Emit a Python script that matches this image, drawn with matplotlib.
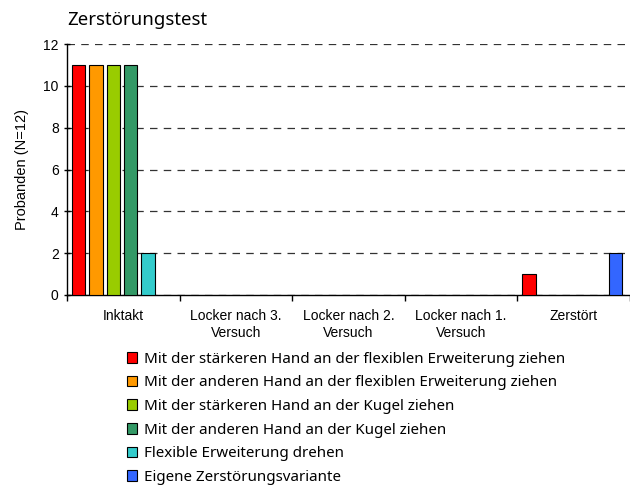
import numpy as np
import matplotlib
matplotlib.use("Agg")
import matplotlib.pyplot as plt
from matplotlib.patches import Patch

categories = ["Inktakt", "Locker nach 3.\nVersuch", "Locker nach 2.\nVersuch",
              "Locker nach 1.\nVersuch", "Zerstört"]
series = [
    "Mit der stärkeren Hand an der flexiblen Erweiterung ziehen",
    "Mit der anderen Hand an der flexiblen Erweiterung ziehen",
    "Mit der stärkeren Hand an der Kugel ziehen",
    "Mit der anderen Hand an der Kugel ziehen",
    "Flexible Erweiterung drehen",
    "Eigene Zerstörungsvariante",
]
values = [
    [11, 0, 0, 0, 1],
    [11, 0, 0, 0, 0],
    [11, 0, 0, 0, 0],
    [11, 0, 0, 0, 0],
    [2, 0, 0, 0, 0],
    [0, 0, 0, 0, 2],
]
colors = ["#ff0000", "#ff9900", "#99cc00", "#339966", "#33cccc", "#3366ff"]

fig = plt.figure(figsize=(6.3, 5.04), dpi=100)
ax = fig.add_axes([67/630, 1 - 295/504, (630 - 67)/630, (295 - 44)/504])

x = np.arange(len(categories))
step = 0.154
width = 0.118
handles = []
for i, (name, vals) in enumerate(zip(series, values)):
    vals = np.array(vals)
    bars = ax.bar(x + 0.045 + i * step, vals, width=width, align="edge", color=colors[i],
                  edgecolor="black", linewidth=0.8, zorder=3)
    # zero-height bars are not drawn in the original
    for b, v in zip(bars, vals):
        if v == 0:
            b.set_visible(False)
    handles.append(Patch(facecolor=colors[i], edgecolor="black", linewidth=0.8, label=name))

ax.set_xlim(0, len(categories))
ax.set_ylim(0, 12)
ax.set_yticks(range(0, 13, 2))
ax.set_xticks(np.arange(len(categories) + 1))
ax.set_xticklabels([])
ax.set_xticks(x + 0.5, minor=True)
ax.set_xticklabels(categories, minor=True, fontsize=10, family="Liberation Sans",
                   linespacing=1.3)
ax.tick_params(axis="x", which="minor", length=0, pad=10)
ax.tick_params(axis="x", which="major", length=4, direction="out", width=1)
ax.tick_params(axis="y", length=4, direction="inout", width=1, labelsize=10, pad=4)
for lbl in ax.get_yticklabels():
    lbl.set_family("Liberation Sans")

ax.grid(axis="y", color="#333333", linestyle=(0, (6, 5)), linewidth=0.9, zorder=0)
for s in ["top", "right"]:
    ax.spines[s].set_visible(False)
ax.spines["left"].set_linewidth(1)
ax.spines["bottom"].set_linewidth(1)

ax.set_ylabel("Probanden (N=12)", fontsize=10.5, family="Liberation Sans", labelpad=10)
fig.text(67/630, 1 - 20/504, "Zerstörungstest", fontsize=13.4, family="Noto Sans",
         va="center", ha="left")

leg = fig.legend(handles=handles, loc="upper left", bbox_to_anchor=(113/630, 1 - 338/504),
                 frameon=False, prop={"family": "Noto Sans", "size": 10.9},
                 handlelength=0.7, handleheight=0.7, handletextpad=0.45,
                 labelspacing=0.57)

fig.savefig("out.png", dpi=100)
